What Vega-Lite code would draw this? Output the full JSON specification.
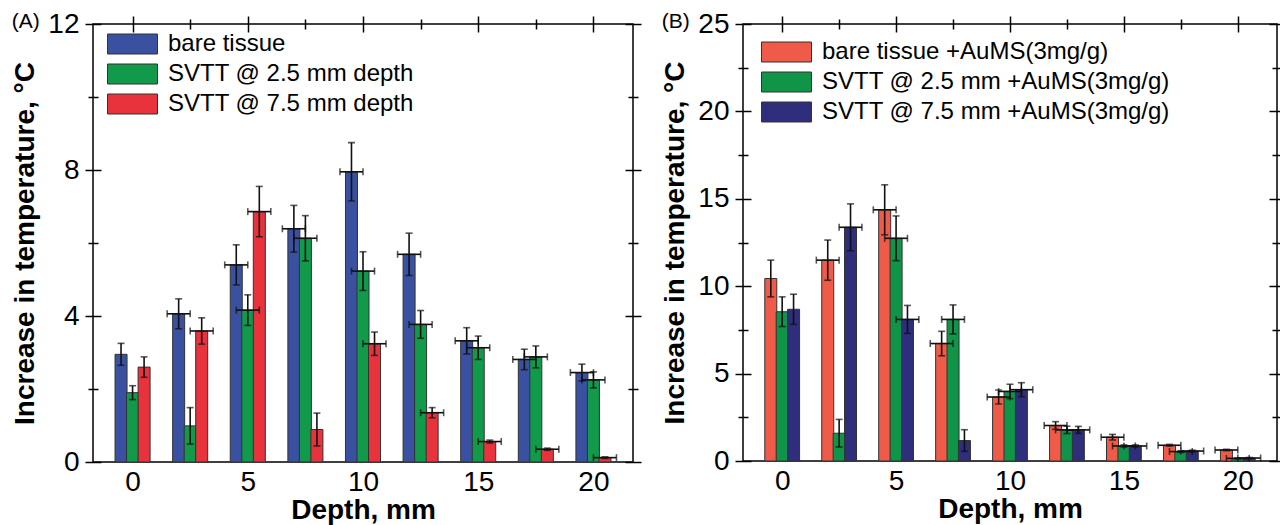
{
  "$schema": "https://vega.github.io/schema/vega-lite/v6.json",
  "padding": {"left": 11, "top": 9, "right": 0, "bottom": 0},
  "spacing": 18,
  "config": {
    "font": "Liberation Sans",
    "view": {"stroke": "black", "strokeWidth": 1.5},
    "axis": {"grid": false, "domain": false, "tickColor": "black", "tickWidth": 1.5, "labelColor": "black", "labelFontSize": 28, "labelFont": "Liberation Sans", "titleFont": "Liberation Sans", "titleFontSize": 28, "titleFontWeight": "bold", "titleColor": "black"},
    "legend": {"orient": "none", "padding": 0, "symbolType": "M-1,-0.4H1V0.4H-1Z", "symbolSize": 2500, "symbolStrokeColor": "#333", "symbolStrokeWidth": 1, "symbolOpacity": 1, "symbolFillOpacity": 1, "labelFontSize": 24, "labelFont": "Liberation Sans", "labelColor": "black", "labelOffset": 10, "clipHeight": 30, "rowPadding": 0, "labelLimit": 500},
    "title": {"font": "Liberation Sans", "fontWeight": "normal", "fontSize": 21, "anchor": "start", "frame": "bounds", "color": "black"}
  },
  "datasets": {
    "a": [
      {"depth": 0, "x": -0.5, "series": "bare tissue", "value": 2.95, "err": 0.30, "xerr": 0},
      {"depth": 0, "x": 0, "series": "SVTT @ 2.5 mm depth", "value": 1.90, "err": 0.19, "xerr": 0},
      {"depth": 0, "x": 0.5, "series": "SVTT @ 7.5 mm depth", "value": 2.60, "err": 0.28, "xerr": 0},
      {"depth": 2.5, "x": 2, "series": "bare tissue", "value": 4.06, "err": 0.41, "xerr": 0.5},
      {"depth": 2.5, "x": 2.5, "series": "SVTT @ 2.5 mm depth", "value": 0.99, "err": 0.50, "xerr": 0},
      {"depth": 2.5, "x": 3, "series": "SVTT @ 7.5 mm depth", "value": 3.59, "err": 0.36, "xerr": 0.5},
      {"depth": 5, "x": 4.5, "series": "bare tissue", "value": 5.40, "err": 0.55, "xerr": 0.5},
      {"depth": 5, "x": 5, "series": "SVTT @ 2.5 mm depth", "value": 4.16, "err": 0.42, "xerr": 0.5},
      {"depth": 5, "x": 5.5, "series": "SVTT @ 7.5 mm depth", "value": 6.86, "err": 0.69, "xerr": 0.5},
      {"depth": 7.5, "x": 7, "series": "bare tissue", "value": 6.39, "err": 0.64, "xerr": 0.5},
      {"depth": 7.5, "x": 7.5, "series": "SVTT @ 2.5 mm depth", "value": 6.13, "err": 0.62, "xerr": 0.5},
      {"depth": 7.5, "x": 8, "series": "SVTT @ 7.5 mm depth", "value": 0.89, "err": 0.45, "xerr": 0},
      {"depth": 10, "x": 9.5, "series": "bare tissue", "value": 7.95, "err": 0.80, "xerr": 0.5},
      {"depth": 10, "x": 10, "series": "SVTT @ 2.5 mm depth", "value": 5.23, "err": 0.53, "xerr": 0.5},
      {"depth": 10, "x": 10.5, "series": "SVTT @ 7.5 mm depth", "value": 3.24, "err": 0.32, "xerr": 0.5},
      {"depth": 12.5, "x": 12, "series": "bare tissue", "value": 5.69, "err": 0.58, "xerr": 0.5},
      {"depth": 12.5, "x": 12.5, "series": "SVTT @ 2.5 mm depth", "value": 3.77, "err": 0.38, "xerr": 0.5},
      {"depth": 12.5, "x": 13, "series": "SVTT @ 7.5 mm depth", "value": 1.35, "err": 0.14, "xerr": 0.5},
      {"depth": 15, "x": 14.5, "series": "bare tissue", "value": 3.32, "err": 0.36, "xerr": 0.5},
      {"depth": 15, "x": 15, "series": "SVTT @ 2.5 mm depth", "value": 3.13, "err": 0.32, "xerr": 0.5},
      {"depth": 15, "x": 15.5, "series": "SVTT @ 7.5 mm depth", "value": 0.56, "err": 0.04, "xerr": 0.5},
      {"depth": 17.5, "x": 17, "series": "bare tissue", "value": 2.81, "err": 0.28, "xerr": 0.5},
      {"depth": 17.5, "x": 17.5, "series": "SVTT @ 2.5 mm depth", "value": 2.88, "err": 0.30, "xerr": 0.5},
      {"depth": 17.5, "x": 18, "series": "SVTT @ 7.5 mm depth", "value": 0.35, "err": 0.03, "xerr": 0.5},
      {"depth": 20, "x": 19.5, "series": "bare tissue", "value": 2.45, "err": 0.23, "xerr": 0.5},
      {"depth": 20, "x": 20, "series": "SVTT @ 2.5 mm depth", "value": 2.25, "err": 0.22, "xerr": 0.5},
      {"depth": 20, "x": 20.5, "series": "SVTT @ 7.5 mm depth", "value": 0.12, "err": 0.02, "xerr": 0.5}
    ],
    "b": [
      {"depth": 0, "x": -0.5, "series": "bare tissue +AuMS(3mg/g)", "value": 10.44, "err": 1.05, "xerr": 0},
      {"depth": 0, "x": 0, "series": "SVTT @ 2.5 mm +AuMS(3mg/g)", "value": 8.54, "err": 0.85, "xerr": 0},
      {"depth": 0, "x": 0.5, "series": "SVTT @ 7.5 mm +AuMS(3mg/g)", "value": 8.68, "err": 0.86, "xerr": 0},
      {"depth": 2.5, "x": 2, "series": "bare tissue +AuMS(3mg/g)", "value": 11.49, "err": 1.15, "xerr": 0.5},
      {"depth": 2.5, "x": 2.5, "series": "SVTT @ 2.5 mm +AuMS(3mg/g)", "value": 1.59, "err": 0.79, "xerr": 0},
      {"depth": 2.5, "x": 3, "series": "SVTT @ 7.5 mm +AuMS(3mg/g)", "value": 13.37, "err": 1.34, "xerr": 0.5},
      {"depth": 5, "x": 4.5, "series": "bare tissue +AuMS(3mg/g)", "value": 14.37, "err": 1.43, "xerr": 0.5},
      {"depth": 5, "x": 5, "series": "SVTT @ 2.5 mm +AuMS(3mg/g)", "value": 12.74, "err": 1.28, "xerr": 0.5},
      {"depth": 5, "x": 5.5, "series": "SVTT @ 7.5 mm +AuMS(3mg/g)", "value": 8.10, "err": 0.80, "xerr": 0.5},
      {"depth": 7.5, "x": 7, "series": "bare tissue +AuMS(3mg/g)", "value": 6.72, "err": 0.70, "xerr": 0.5},
      {"depth": 7.5, "x": 7.5, "series": "SVTT @ 2.5 mm +AuMS(3mg/g)", "value": 8.10, "err": 0.83, "xerr": 0.5},
      {"depth": 7.5, "x": 8, "series": "SVTT @ 7.5 mm +AuMS(3mg/g)", "value": 1.17, "err": 0.62, "xerr": 0},
      {"depth": 10, "x": 9.5, "series": "bare tissue +AuMS(3mg/g)", "value": 3.66, "err": 0.40, "xerr": 0.5},
      {"depth": 10, "x": 10, "series": "SVTT @ 2.5 mm +AuMS(3mg/g)", "value": 3.98, "err": 0.41, "xerr": 0.5},
      {"depth": 10, "x": 10.5, "series": "SVTT @ 7.5 mm +AuMS(3mg/g)", "value": 4.08, "err": 0.40, "xerr": 0.5},
      {"depth": 12.5, "x": 12, "series": "bare tissue +AuMS(3mg/g)", "value": 2.03, "err": 0.22, "xerr": 0.5},
      {"depth": 12.5, "x": 12.5, "series": "SVTT @ 2.5 mm +AuMS(3mg/g)", "value": 1.78, "err": 0.21, "xerr": 0.5},
      {"depth": 12.5, "x": 13, "series": "SVTT @ 7.5 mm +AuMS(3mg/g)", "value": 1.78, "err": 0.20, "xerr": 0.5},
      {"depth": 15, "x": 14.5, "series": "bare tissue +AuMS(3mg/g)", "value": 1.36, "err": 0.16, "xerr": 0.5},
      {"depth": 15, "x": 15, "series": "SVTT @ 2.5 mm +AuMS(3mg/g)", "value": 0.86, "err": 0.06, "xerr": 0.5},
      {"depth": 15, "x": 15.5, "series": "SVTT @ 7.5 mm +AuMS(3mg/g)", "value": 0.86, "err": 0.06, "xerr": 0.5},
      {"depth": 17.5, "x": 17, "series": "bare tissue +AuMS(3mg/g)", "value": 0.90, "err": 0.05, "xerr": 0.5},
      {"depth": 17.5, "x": 17.5, "series": "SVTT @ 2.5 mm +AuMS(3mg/g)", "value": 0.54, "err": 0.05, "xerr": 0.5},
      {"depth": 17.5, "x": 18, "series": "SVTT @ 7.5 mm +AuMS(3mg/g)", "value": 0.57, "err": 0.05, "xerr": 0.5},
      {"depth": 20, "x": 19.5, "series": "bare tissue +AuMS(3mg/g)", "value": 0.63, "err": 0.04, "xerr": 0.5},
      {"depth": 20, "x": 20, "series": "SVTT @ 2.5 mm +AuMS(3mg/g)", "value": 0.15, "err": 0.03, "xerr": 0.5},
      {"depth": 20, "x": 20.5, "series": "SVTT @ 7.5 mm +AuMS(3mg/g)", "value": 0.17, "err": 0.03, "xerr": 0.5}
    ]
  },
  "hconcat": [
    {
      "width": 540, "height": 438,
      "title": {"text": "(A)", "offset": -22},
      "data": {"name": "a"},
      "layer": [
        {
          "mark": {"type": "bar", "size": 12, "stroke": "#333", "strokeWidth": 1},
          "encoding": {
            "x": {"field": "x", "type": "quantitative", "scale": {"domain": [-1.5, 21.5], "nice": false, "zero": false}, "axis": {"orient": "bottom", "values": [0, 5, 10, 15, 20], "ticks": false, "labelPadding": 6, "title": "Depth, mm", "titlePadding": 0}},
            "y": {"field": "value", "type": "quantitative", "stack": null, "scale": {"domain": [0, 12], "nice": false}, "axis": {"orient": "left", "values": [0, 4, 8, 12], "ticks": false, "labelPadding": 14, "title": "Increase in temperature, °C", "titlePadding": 8}},
            "color": {"field": "series", "type": "nominal", "scale": {"domain": ["bare tissue", "SVTT @ 2.5 mm depth", "SVTT @ 7.5 mm depth"], "range": ["#3a51a2", "#109a4a", "#e8333c"]}, "legend": {"title": null, "legendX": 14, "legendY": 5}}
          }
        },
        {
          "mark": {"type": "errorbar", "ticks": true, "thickness": 1.6, "size": 7, "color": "#111"},
          "encoding": {
            "x": {"field": "x", "type": "quantitative", "axis": null},
            "y": {"field": "value", "type": "quantitative", "axis": null},
            "yError": {"field": "err"}
          }
        },
        {
          "transform": [{"filter": "datum.xerr > 0"}],
          "mark": {"type": "errorbar", "ticks": true, "thickness": 1.6, "size": 7, "color": "#111"},
          "encoding": {
            "x": {"field": "x", "type": "quantitative", "axis": null},
            "xError": {"field": "xerr"},
            "y": {"field": "value", "type": "quantitative", "axis": null}
          }
        },
        {
          "mark": {"type": "point", "opacity": 0},
          "encoding": {
            "x": {"field": "x", "type": "quantitative", "axis": {"orient": "top", "values": [0, 5, 10, 15, 20], "tickSize": 16, "offset": -8, "labels": false, "title": null}},
            "y": {"field": "value", "type": "quantitative", "axis": {"orient": "left", "values": [0, 4, 8, 12], "tickSize": 16, "offset": -8, "labels": false, "title": null}}
          }
        },
        {
          "mark": {"type": "point", "opacity": 0},
          "encoding": {
            "x": {"field": "x", "type": "quantitative", "axis": {"orient": "top", "values": [2.5, 7.5, 12.5, 17.5], "tickSize": 10, "offset": -5, "labels": false, "title": null}},
            "y": {"field": "value", "type": "quantitative", "axis": {"orient": "left", "values": [2, 6, 10], "tickSize": 10, "offset": -5, "labels": false, "title": null}}
          }
        },
        {
          "mark": {"type": "point", "opacity": 0},
          "encoding": {
            "x": {"field": "x", "type": "quantitative", "axis": null},
            "y": {"field": "value", "type": "quantitative", "axis": {"orient": "right", "values": [0, 4, 8, 12], "tickSize": 16, "offset": -8, "labels": false, "title": null}}
          }
        },
        {
          "mark": {"type": "point", "opacity": 0},
          "encoding": {
            "x": {"field": "x", "type": "quantitative", "axis": null},
            "y": {"field": "value", "type": "quantitative", "axis": {"orient": "right", "values": [2, 6, 10], "tickSize": 10, "offset": -5, "labels": false, "title": null}}
          }
        }
      ],
      "resolve": {"axis": {"x": "independent", "y": "independent"}}
    },
    {
      "width": 534, "height": 437,
      "title": {"text": "(B)", "offset": -22},
      "data": {"name": "b"},
      "layer": [
        {
          "mark": {"type": "bar", "size": 12, "stroke": "#333", "strokeWidth": 1},
          "encoding": {
            "x": {"field": "x", "type": "quantitative", "scale": {"domain": [-1.5, 21.5], "nice": false, "zero": false}, "axis": {"orient": "bottom", "values": [0, 5, 10, 15, 20], "ticks": false, "labelPadding": 6, "title": "Depth, mm", "titlePadding": 0}},
            "y": {"field": "value", "type": "quantitative", "stack": null, "scale": {"domain": [0, 25], "nice": false}, "axis": {"orient": "left", "values": [0, 5, 10, 15, 20, 25], "ticks": false, "labelPadding": 14, "title": "Increase in temperature, °C", "titlePadding": 8}},
            "color": {"field": "series", "type": "nominal", "scale": {"domain": ["bare tissue +AuMS(3mg/g)", "SVTT @ 2.5 mm +AuMS(3mg/g)", "SVTT @ 7.5 mm +AuMS(3mg/g)"], "range": ["#ef5b48", "#0f9448", "#2e2e7c"]}, "legend": {"title": null, "legendX": 18, "legendY": 13}}
          }
        },
        {
          "mark": {"type": "errorbar", "ticks": true, "thickness": 1.6, "size": 7, "color": "#111"},
          "encoding": {
            "x": {"field": "x", "type": "quantitative", "axis": null},
            "y": {"field": "value", "type": "quantitative", "axis": null},
            "yError": {"field": "err"}
          }
        },
        {
          "transform": [{"filter": "datum.xerr > 0"}],
          "mark": {"type": "errorbar", "ticks": true, "thickness": 1.6, "size": 7, "color": "#111"},
          "encoding": {
            "x": {"field": "x", "type": "quantitative", "axis": null},
            "xError": {"field": "xerr"},
            "y": {"field": "value", "type": "quantitative", "axis": null}
          }
        },
        {
          "mark": {"type": "point", "opacity": 0},
          "encoding": {
            "x": {"field": "x", "type": "quantitative", "axis": {"orient": "top", "values": [0, 5, 10, 15, 20], "tickSize": 16, "offset": -8, "labels": false, "title": null}},
            "y": {"field": "value", "type": "quantitative", "axis": {"orient": "left", "values": [0, 5, 10, 15, 20, 25], "tickSize": 16, "offset": -8, "labels": false, "title": null}}
          }
        },
        {
          "mark": {"type": "point", "opacity": 0},
          "encoding": {
            "x": {"field": "x", "type": "quantitative", "axis": {"orient": "top", "values": [2.5, 7.5, 12.5, 17.5], "tickSize": 10, "offset": -5, "labels": false, "title": null}},
            "y": {"field": "value", "type": "quantitative", "axis": {"orient": "left", "values": [2.5, 7.5, 12.5, 17.5, 22.5], "tickSize": 10, "offset": -5, "labels": false, "title": null}}
          }
        },
        {
          "mark": {"type": "point", "opacity": 0},
          "encoding": {
            "x": {"field": "x", "type": "quantitative", "axis": null},
            "y": {"field": "value", "type": "quantitative", "axis": {"orient": "right", "values": [0, 5, 10, 15, 20, 25], "tickSize": 16, "offset": -8, "labels": false, "title": null}}
          }
        },
        {
          "mark": {"type": "point", "opacity": 0},
          "encoding": {
            "x": {"field": "x", "type": "quantitative", "axis": null},
            "y": {"field": "value", "type": "quantitative", "axis": {"orient": "right", "values": [2.5, 7.5, 12.5, 17.5, 22.5], "tickSize": 10, "offset": -5, "labels": false, "title": null}}
          }
        }
      ],
      "resolve": {"axis": {"x": "independent", "y": "independent"}}
    }
  ],
  "resolve": {"scale": {"color": "independent"}, "legend": {"color": "independent"}}
}
